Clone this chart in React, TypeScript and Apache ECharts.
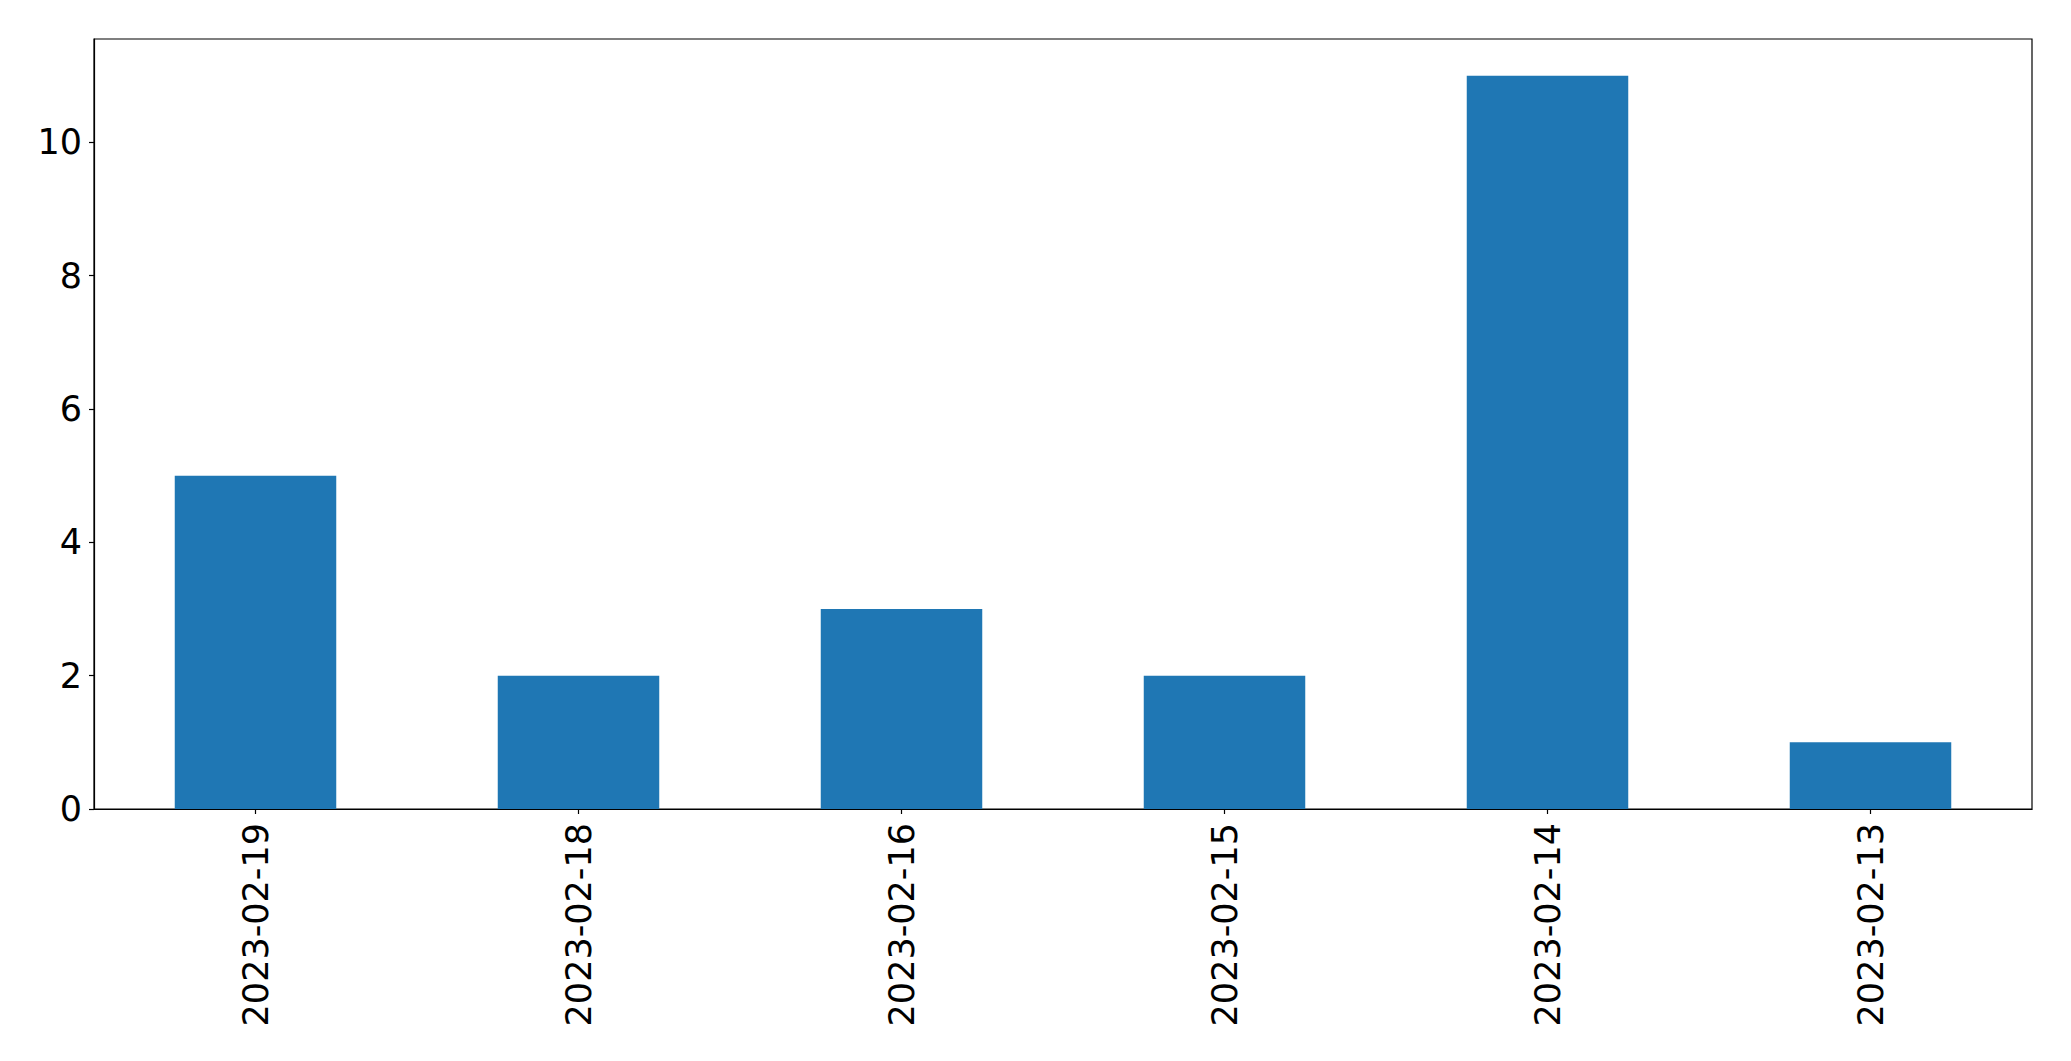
import React, { useEffect, useRef } from "react";
import * as echarts from "echarts";

const categories = ["2023-02-19", "2023-02-18", "2023-02-16", "2023-02-15", "2023-02-14", "2023-02-13"];
const values = [5, 2, 3, 2, 11, 1];
const yTicks = [0, 2, 4, 6, 8, 10];

export default function App() {
  const ref = useRef<HTMLDivElement>(null);
  useEffect(() => {
    if (!ref.current) return;
    const chart = echarts.init(ref.current, null, { renderer: "svg" });
    const font = "DejaVu Sans";
    chart.setOption({
      animation: false,
      backgroundColor: "#ffffff",
      grid: {
        left: 94,
        top: 39,
        right: 39,
        bottom: 252,
        show: true,
        borderColor: "#000000",
        borderWidth: 1.2,
        backgroundColor: "transparent",
      },
      xAxis: {
        type: "category",
        data: categories,
        boundaryGap: true,
        axisLine: { show: true, lineStyle: { color: "#000", width: 1.2 } },
        axisTick: { show: true, alignWithLabel: true, length: 5, lineStyle: { color: "#000", width: 1.2 } },
        axisLabel: {
          rotate: 90,
          margin: 14,
          fontFamily: font,
          fontSize: 35,
          color: "#000",
          interval: 0,
        },
        splitLine: { show: false },
      },
      yAxis: {
        type: "value",
        min: 0,
        max: 11.55,
        interval: 2,
        axisLine: { show: true, lineStyle: { color: "#000", width: 1.2 } },
        axisTick: { show: true, length: 5, customValues: yTicks, lineStyle: { color: "#000", width: 1.2 } },
        axisLabel: {
          customValues: yTicks,
          margin: 12,
          fontFamily: font,
          fontSize: 35,
          color: "#000",
        },
        splitLine: { show: false },
      },
      series: [
        {
          type: "bar",
          data: values,
          barWidth: "50%",
          itemStyle: { color: "#1f77b4" },
        },
      ],
    });
    return () => chart.dispose();
  }, []);
  return (
    <div
      ref={ref}
      style={{ position: "fixed", left: 0, top: 0, width: 2071, height: 1061, background: "#fff" }}
    />
  );
}
